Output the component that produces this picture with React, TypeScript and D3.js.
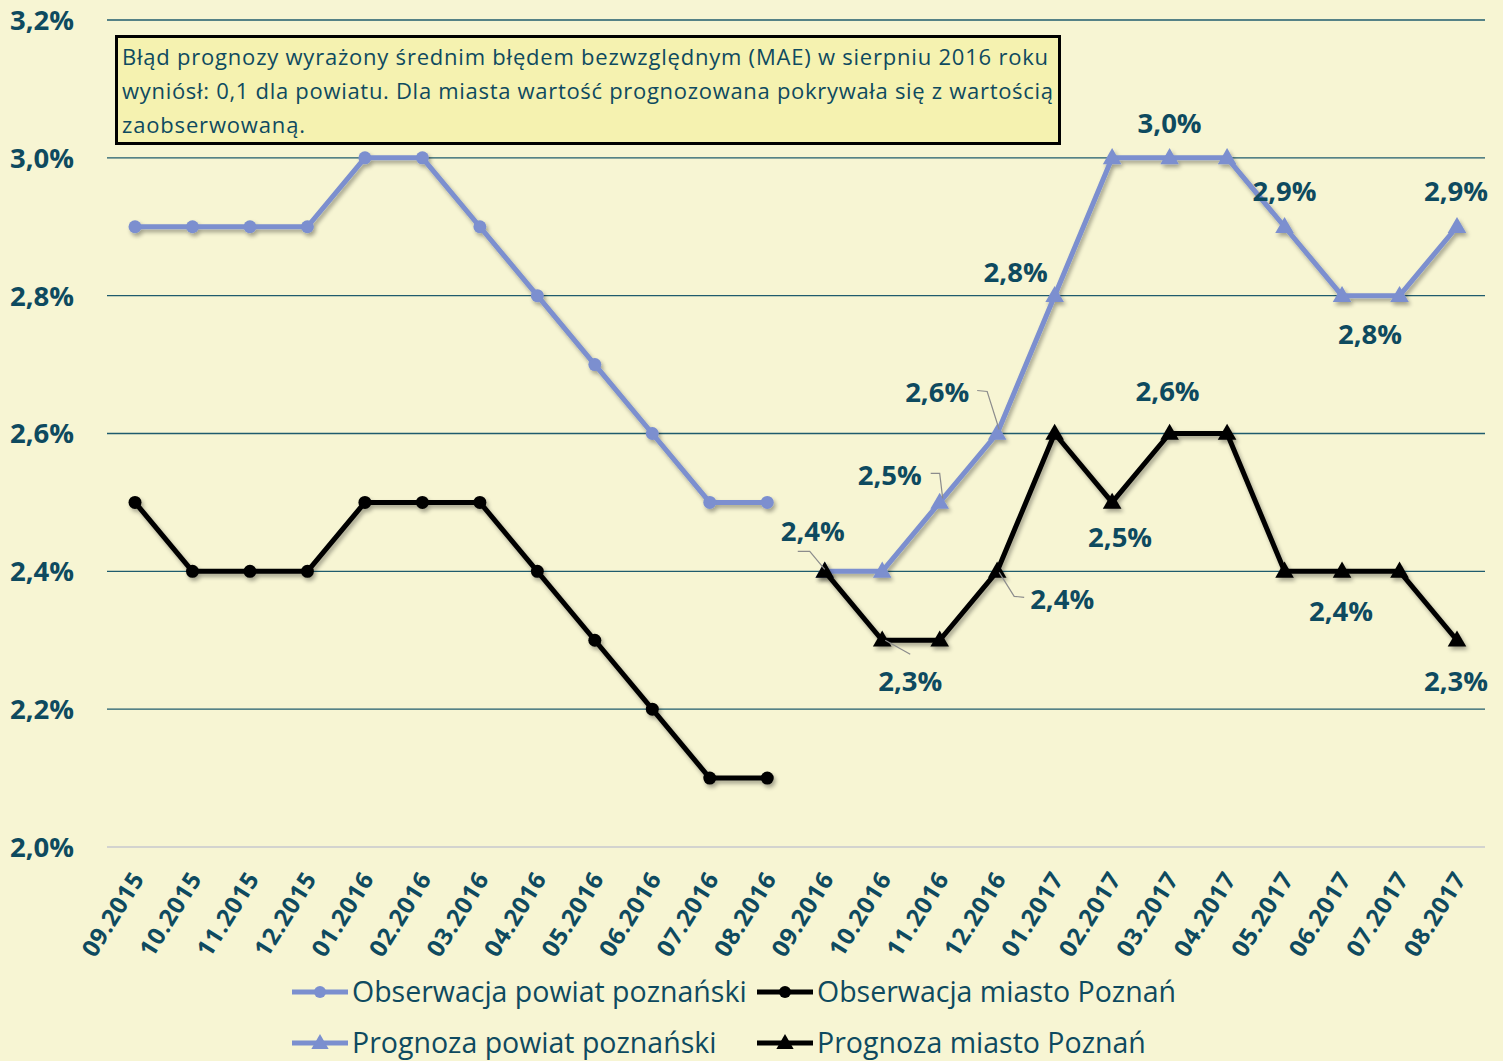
import React from "react";
import * as d3 from "d3";

const categories = [
  "09.2015","10.2015","11.2015","12.2015","01.2016","02.2016","03.2016","04.2016",
  "05.2016","06.2016","07.2016","08.2016","09.2016","10.2016","11.2016","12.2016",
  "01.2017","02.2017","03.2017","04.2017","05.2017","06.2017","07.2017","08.2017",
];
const obsPowiat: (number | null)[] = [2.9,2.9,2.9,2.9,3.0,3.0,2.9,2.8,2.7,2.6,2.5,2.5,null,null,null,null,null,null,null,null,null,null,null,null];
const obsMiasto: (number | null)[] = [2.5,2.4,2.4,2.4,2.5,2.5,2.5,2.4,2.3,2.2,2.1,2.1,null,null,null,null,null,null,null,null,null,null,null,null];
const progPowiat: (number | null)[] = [null,null,null,null,null,null,null,null,null,null,null,null,2.4,2.4,2.5,2.6,2.8,3.0,3.0,3.0,2.9,2.8,2.8,2.9];
const progMiasto: (number | null)[] = [null,null,null,null,null,null,null,null,null,null,null,null,2.4,2.3,2.3,2.4,2.6,2.5,2.6,2.6,2.4,2.4,2.4,2.3];
const yTicks = [2.0, 2.2, 2.4, 2.6, 2.8, 3.0, 3.2];
const seriesNames = ["Obserwacja powiat poznański","Obserwacja miasto Poznań","Prognoza powiat poznański","Prognoza miasto Poznań"];
const noteLines = [
  "Błąd prognozy wyrażony średnim błędem bezwzględnym (MAE) w sierpniu 2016 roku",
  "wyniósł: 0,1 dla powiatu. Dla miasta wartość prognozowana pokrywała się z wartością",
  "zaobserwowaną.",
];
const noteWidths = [926, 931, 183];

// label layout: series index, category index, offset, optional leader polyline offsets
const labelLayout: { s: number; i: number; dx: number; dy: number; leader?: [number, number][] }[] = [
  { s: 2, i: 12, dx: -12, dy: -40, leader: [[-27, -20], [-15, -20], [0, -2]] },
  { s: 2, i: 14, dx: -50, dy: -27, leader: [[-9, -29], [0, -29], [3, -4]] },
  { s: 2, i: 15, dx: -60, dy: -41, leader: [[-20, -43], [-10, -42], [2, -4]] },
  { s: 2, i: 16, dx: -39, dy: -24 },
  { s: 2, i: 18, dx: 0, dy: -35 },
  { s: 2, i: 20, dx: 0, dy: -36 },
  { s: 2, i: 21, dx: 28, dy: 38 },
  { s: 2, i: 23, dx: -1, dy: -36 },
  { s: 3, i: 13, dx: 28, dy: 41, leader: [[3, 0], [28, 14]] },
  { s: 3, i: 15, dx: 65, dy: 28, leader: [[2, 1], [17, 25], [27, 26]] },
  { s: 3, i: 17, dx: 8, dy: 35 },
  { s: 3, i: 18, dx: -2, dy: -42 },
  { s: 3, i: 21, dx: -1, dy: 40 },
  { s: 3, i: 23, dx: -1, dy: 41 },
];

const W = 1503, H = 1061;
const TEXT = "#0e4a5f";
const BLUE = "#7b8fcf";
const BLACK = "#000000";
const FONT = "'Open Sans', 'Noto Sans', sans-serif";

const fmt = (v: number) => v.toFixed(1).replace(".", ",") + "%";

export default function App() {
  const x = d3.scalePoint<string>().domain(categories).range([135, 1457]);
  const y = d3.scaleLinear().domain([2.0, 3.2]).range([847, 20]);
  const allSeries = [obsPowiat, obsMiasto, progPowiat, progMiasto];
  const colors = [BLUE, BLACK, BLUE, BLACK];
  const markers = ["circle", "circle", "triangle", "triangle"];

  const line = d3
    .line<number | null>()
    .defined((d) => d !== null)
    .x((_, i) => x(categories[i]) as number)
    .y((d) => y(d as number));

  const tri = d3.symbol().type(d3.symbolTriangle).size(150)();
  const triLegend = d3.symbol().type(d3.symbolTriangle).size(130)();

  const marker = (kind: string, color: string, cx: number, cy: number, key: string, small = false) =>
    kind === "circle" ? (
      <circle key={key} cx={cx} cy={cy} r={small ? 6 : 6.5} fill={color} />
    ) : (
      <path key={key} d={small ? (triLegend as string) : (tri as string)} transform={`translate(${cx},${cy + 1})`} fill={color} />
    );

  return (
    <svg width={W} height={H} style={{ position: "absolute", left: 0, top: 0 }} fontFamily={FONT}>
      <defs>
        <filter id="sh" x="-10%" y="-10%" width="120%" height="130%">
          <feGaussianBlur in="SourceAlpha" stdDeviation="2" />
          <feOffset dx="2" dy="3" result="b" />
          <feComponentTransfer><feFuncA type="linear" slope="0.35" /></feComponentTransfer>
          <feMerge><feMergeNode /><feMergeNode in="SourceGraphic" /></feMerge>
        </filter>
      </defs>
      <rect width={W} height={H} fill="#f7f5d3" />
      {/* grid */}
      {yTicks.map((t) => (
        <g key={t}>
          <line x1={107} x2={1485} y1={y(t)} y2={y(t)} stroke={t === 2.0 ? "#d3d3cf" : "#1f5b6d"} strokeWidth={t === 2.0 ? 2 : 1.3} />
          <text x={74} y={y(t)} dy="0.36em" textAnchor="end" fontSize={27.5} fontWeight={700} fill={TEXT}>
            {fmt(t)}
          </text>
        </g>
      ))}
      {/* x labels */}
      {categories.map((c) => (
        <text key={c} transform={`translate(${(x(c) as number) + 3},${874}) rotate(-58)`} textAnchor="end" fontSize={24} fontWeight={700} letterSpacing={0.8} fill={TEXT} dy="0.35em">
          {c}
        </text>
      ))}
      {/* note box */}
      <rect x={116.5} y={36.5} width={943} height={107} fill="#f5f2b0" stroke="#000" strokeWidth={3} />
      {noteLines.map((l, i) => (
        <text key={i} x={122} y={65 + i * 34} fontSize={22} fill={TEXT} textLength={noteWidths[i]} lengthAdjust="spacing">
          {l}
        </text>
      ))}
      {/* series */}
      {allSeries.map((s, si) => (
        <g key={si} filter="url(#sh)">
          <path d={line(s) as string} fill="none" stroke={colors[si]} strokeWidth={5} strokeLinejoin="round" />
          {s.map((v, i) =>
            v === null ? null : marker(markers[si], colors[si], x(categories[i]) as number, y(v), `${si}-${i}`)
          )}
        </g>
      ))}
      {/* leaders + labels */}
      {labelLayout.map((l, k) => {
        const v = allSeries[l.s][l.i] as number;
        const px = x(categories[l.i]) as number;
        const py = y(v);
        return (
          <g key={k}>
            {l.leader && (
              <polyline points={l.leader.map(([a, b]) => `${px + a},${py + b}`).join(" ")} fill="none" stroke="#8c8c8c" strokeWidth={1.2} />
            )}
            <text x={px + l.dx} y={py + l.dy} dy="0.36em" textAnchor="middle" fontSize={27.5} fontWeight={700} fill={TEXT}>
              {fmt(v)}
            </text>
          </g>
        );
      })}
      {/* legend */}
      {seriesNames.map((n, i) => {
        const col = i % 2;
        const row = Math.floor(i / 2);
        const sx = col === 0 ? 292 : 757;
        const sy = row === 0 ? 992 : 1043;
        return (
          <g key={n}>
            <line x1={sx} x2={sx + 56} y1={sy} y2={sy} stroke={colors[i]} strokeWidth={5} />
            {marker(markers[i], colors[i], sx + 28, sy, `lg${i}`, true)}
            <text x={sx + 60} y={sy} dy="0.36em" fontSize={28.5} fill={TEXT}>
              {n}
            </text>
          </g>
        );
      })}
    </svg>
  );
}
